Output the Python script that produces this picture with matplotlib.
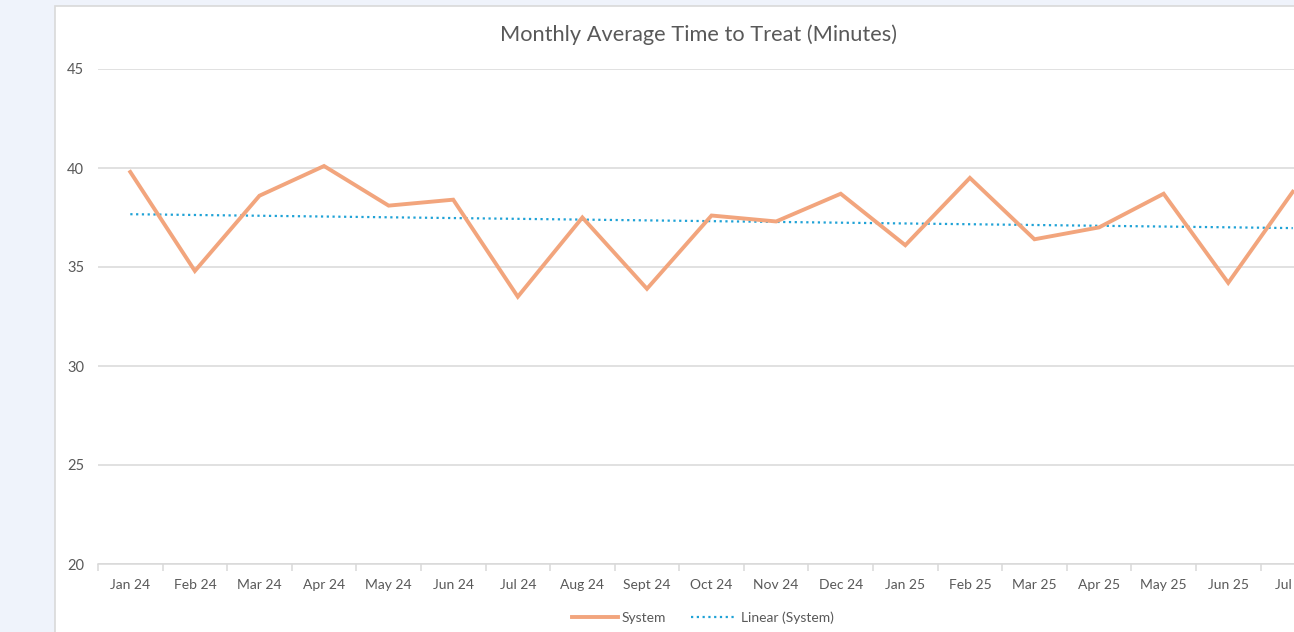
import numpy as np
import matplotlib.pyplot as plt
from matplotlib.patches import Rectangle
from matplotlib.lines import Line2D

months = ["Jan 24", "Feb 24", "Mar 24", "Apr 24", "May 24", "Jun 24", "Jul 24",
          "Aug 24", "Sept 24", "Oct 24", "Nov 24", "Dec 24", "Jan 25", "Feb 25",
          "Mar 25", "Apr 25", "May 25", "Jun 25", "Jul 25"]
system = [39.8, 34.8, 38.6, 40.1, 38.1, 38.4, 33.5, 37.5, 33.9, 37.6, 37.3,
          38.7, 36.1, 39.5, 36.4, 37.0, 38.7, 34.2, 38.8]
y_ticks = [20, 25, 30, 35, 40, 45]

GREY_TXT = "#595959"
GRID = "#D9D9D9"
ORANGE = "#F2A57D"
BLUE = "#1FA2D6"

plt.rcParams["font.family"] = ["Lato", "DejaVu Sans"]

W, H = 1294, 632
fig = plt.figure(figsize=(W / 100, H / 100), dpi=100)
fig.patch.set_facecolor("#EFF3FB")

# white chart panel (runs off the right / bottom edge)
panel = Rectangle((55 / W, -0.1), 1.2, 1.1 - 6 / H, transform=fig.transFigure,
                  facecolor="white", edgecolor=GRID, linewidth=1.2, zorder=-5)
fig.patches.append(panel)

x = np.arange(len(months))
ax = fig.add_axes([98 / W, (H - 564) / H, (W - 98) / W, (564 - 69) / H])
ax.set_facecolor("none")
ax.set_zorder(1)

# linear trend of the series
k, b = np.polyfit(x, system, 1)
ax.plot(x, k * x + b, color=BLUE, lw=1.6, ls=(0, (1, 1.6)), zorder=2)
ax.plot(x, system, color=ORANGE, lw=2.8, solid_joinstyle="miter", zorder=3)

ax.set_ylim(20, 45)
ax.set_xlim(-0.5, (W - 130) / 64.6)
ax.set_yticks(y_ticks)
ax.set_yticklabels([str(t) for t in y_ticks])
ax.set_xticks(x)
ax.set_xticklabels(months)
ax.set_xticks(list(x[:-1] + 0.5) + [-0.5], minor=True)

ax.yaxis.grid(True, color=GRID, lw=1.1)
ax.set_axisbelow(True)
for s in ["top", "right", "left"]:
    ax.spines[s].set_visible(False)
ax.spines["bottom"].set_color(GRID)
ax.spines["bottom"].set_linewidth(1.1)

ax.tick_params(axis="y", length=0, pad=10, labelsize=10.5, labelcolor=GREY_TXT)
ax.tick_params(axis="x", which="major", length=0, pad=11, labelsize=10, labelcolor=GREY_TXT)
ax.tick_params(axis="x", which="minor", length=5, width=1.1, color=GRID)

fig.text(699 / W, 1 - 35 / H, "Monthly Average Time to Treat (Minutes)",
         ha="center", va="center", fontsize=15.7, color=GREY_TXT)

handles = [Line2D([], [], color=ORANGE, lw=2.8),
           Line2D([], [], color=BLUE, lw=1.6, ls=(0, (1, 1.6)))]
fig.legend(handles, ["System", "Linear (System)"], loc="center",
           bbox_to_anchor=(703 / W, 1 - 618 / H), ncol=2, frameon=False,
           fontsize=10, labelcolor=GREY_TXT, handlelength=3.3, handletextpad=0.3,
           columnspacing=1.8)

fig.savefig("out.png", dpi=100, facecolor=fig.get_facecolor())
